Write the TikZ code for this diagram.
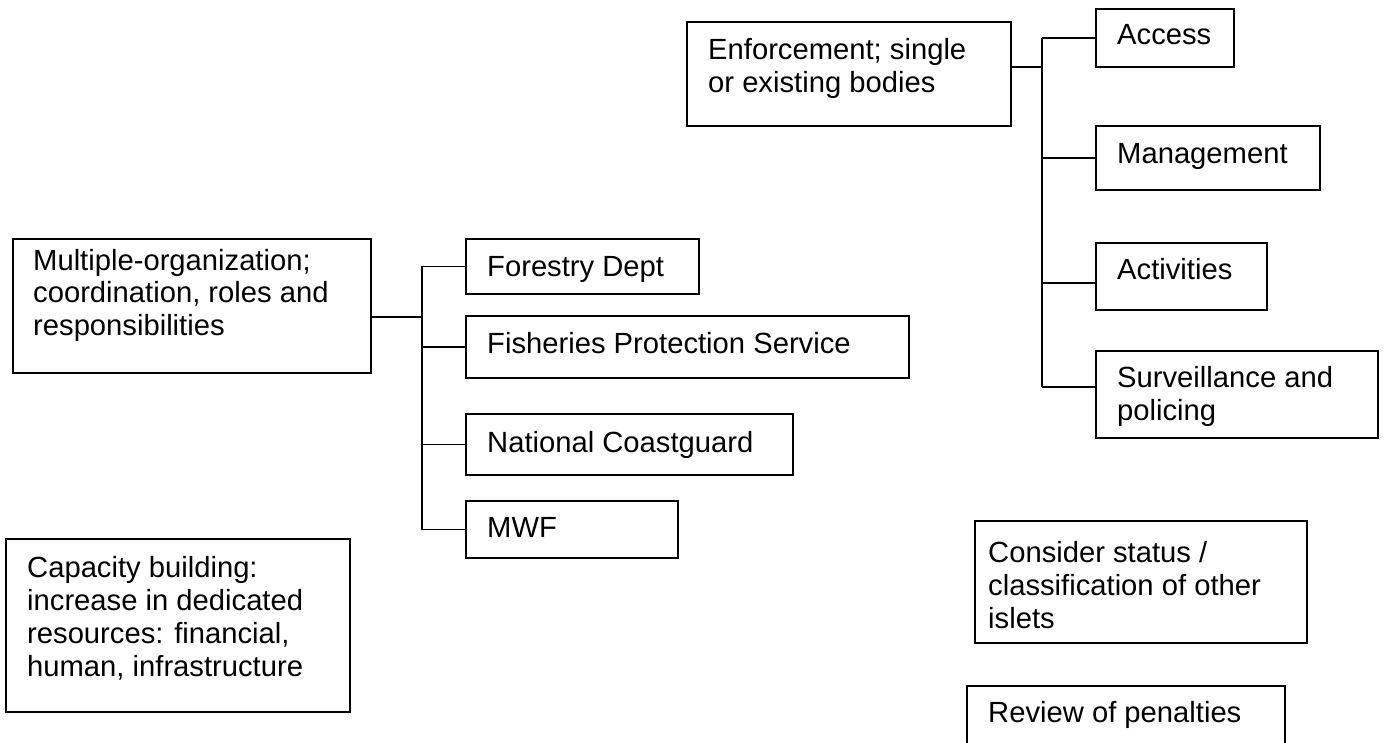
\documentclass[tikz,border=0pt]{standalone}
\usepackage{fontspec}
\setmainfont{Liberation Sans}
\newcommand\mybox[5]{\node[box, minimum width={#4-#2}, minimum height={#5-#3}] (#1) at ({(#2+#4)/2},{(#3+#5)/2}) {};}
\begin{document}
\begin{tikzpicture}[x=1pt,y=-1pt,
  box/.style={draw=black, line width=1.8pt, inner sep=0pt, rectangle},
  lbl/.style={anchor=base west, inner sep=0pt, align=left, font=\fontsize{29.2}{33}\selectfont},
  conn/.style={draw=black, line width=1.6pt}]
\useasboundingbox (0,0) rectangle (1387,743);
\clip (0,0) rectangle (1387,743);
% boxes
\mybox{enf}{687}{22}{1011}{126}
\mybox{acc}{1096}{9}{1234}{67}
\mybox{man}{1096}{126}{1320}{190}
\mybox{act}{1096}{243}{1267}{310}
\mybox{sur}{1096}{351}{1378}{438}
\mybox{mul}{13}{239}{371}{373}
\mybox{for}{466}{239}{699}{294}
\mybox{fis}{466}{316}{909}{378}
\mybox{nat}{466}{414}{793}{475}
\mybox{mwf}{466}{501}{678}{558}
\mybox{cap}{6}{539}{350}{712}
\mybox{con}{975}{521}{1307}{643}
\mybox{rev}{967}{686}{1285}{770}
% texts (anchor = baseline of the last line)
\node[lbl] (enft) at (708,93) {Enforcement; single\\or existing bodies};
\node[lbl] (acct) at (1117,45) {Access};
\node[lbl] (mant) at (1117,164) {Management};
\node[lbl] (actt) at (1117,280) {Activities};
\node[lbl] (surt) at (1117,420) {Surveillance and\\policing};
\node[lbl] (mult) at (33,336) {Multiple-organization;\\coordination, roles and\\responsibilities};
\node[lbl] (fort) at (487,277) {Forestry Dept};
\node[lbl] (fist) at (487,353) {Fisheries Protection Service};
\node[lbl] (natt) at (487,452) {National Coastguard};
\node[lbl] (mwft) at (487,537) {MWF};
\node[lbl] (capt) at (27,676) {Capacity building:\\increase in dedicated\\resources: financial,\\human, infrastructure};
\node[lbl] (cont) at (988,628) {Consider status /\\classification of other\\islets};
\node[lbl] (revt) at (988,722) {Review of penalties};
% right tree
\coordinate (rj) at (1042,67);
\coordinate (enfc) at ([yshift=7pt]enf.east);
\coordinate (actc) at ([yshift=-6.5pt]act.west);
\coordinate (surc) at ([yshift=7.5pt]sur.west);
\draw[conn] (enfc) -- (rj);
\draw[conn] (acc.west -| rj) -- (surc -| rj);
\draw[conn] (acc.west -| rj) -- (acc.west);
\draw[conn] (man.west -| rj) -- (man.west);
\draw[conn] (actc -| rj) -- (actc);
\draw[conn] (surc -| rj) -- (surc);
% left tree
\coordinate (lj) at (422,317);
\coordinate (mulc) at ([yshift=-11pt]mul.east);
\draw[conn] (mulc) -- (lj);
\draw[conn] (for.west -| lj) -- (mwf.west -| lj);
\draw[conn] (for.west -| lj) -- (for.west);
\draw[conn] (fis.west -| lj) -- (fis.west);
\draw[conn] (nat.west -| lj) -- (nat.west);
\draw[conn] (mwf.west -| lj) -- (mwf.west);
\end{tikzpicture}
\end{document}
